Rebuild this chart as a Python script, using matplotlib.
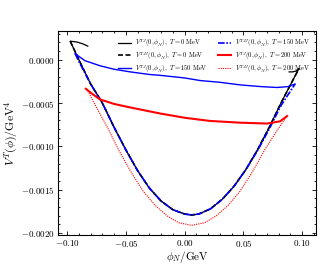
import numpy as np
import matplotlib
matplotlib.use('Agg')
from matplotlib import pyplot as plt
from matplotlib.ticker import MultipleLocator, FuncFormatter

plt.rcParams['mathtext.fontset'] = 'cm'
plt.rcParams['font.family'] = 'serif'

# V^TJJ, T = 0 MeV (black dashed)
x_jj0 = [-0.0974, -0.0900, -0.0800, -0.0700, -0.0600, -0.0500, -0.0400, -0.0300, -0.0200, -0.0100,
         0.0000, 0.0060, 0.0120, 0.0220, 0.0320, 0.0420, 0.0520, 0.0620, 0.0720, 0.0820, 0.0920, 0.0974]
y_jj0 = [0.000214, 0.00000, -0.00028, -0.00050, -0.00078, -0.00104, -0.00128, -0.00148, -0.00163, -0.00173,
         -0.00178, -0.00179, -0.00178, -0.00172, -0.00161, -0.00146, -0.00127, -0.00104, -0.00078, -0.00050, -0.00024, -0.00010]

# V^TJ, T = 0 MeV (black solid), with small tails at both ends
x_j0 = [-0.0824, -0.0870, -0.0920] + x_jj0 + [0.0950, 0.0920, 0.0890]
y_j0 = [0.000157, 0.000185, 0.000205] + y_jj0 + [-0.00013, -0.00014, -0.00014]

# T = 150 MeV
x_j150 = [-0.0932, -0.0850, -0.0719, -0.0600, -0.0464, -0.0300, -0.0209, 0.0000, 0.0132,
          0.0300, 0.0472, 0.0650, 0.0787, 0.0880, 0.0940]
y_j150 = [0.00007, -0.00001, -0.00007, -0.00011, -0.00014, -0.00017, -0.00018, -0.00021, -0.00024,
          -0.00026, -0.00029, -0.00031, -0.00032, -0.00031, -0.00028]
x_jj150 = [-0.0932, -0.0900, -0.0800, -0.0700, -0.0600, -0.0500, -0.0400, -0.0300, -0.0200, -0.0100,
           0.0000, 0.0060, 0.0120, 0.0220, 0.0320, 0.0420, 0.0520, 0.0620, 0.0720, 0.0820, 0.0940]
y_jj150 = [0.00007, -0.00002, -0.00028, -0.00050, -0.00078, -0.00104, -0.00128, -0.00148, -0.00163, -0.00173,
           -0.00178, -0.00179, -0.00178, -0.00172, -0.00161, -0.00146, -0.00127, -0.00105, -0.00080, -0.00053, -0.00028]

# T = 200 MeV
x_j200 = [-0.0841, -0.0780, -0.0719, -0.0600, -0.0464, -0.0209, 0.0004, 0.0217, 0.0472, 0.0702, 0.0813, 0.0872]
y_j200 = [-0.000335, -0.00040, -0.000458, -0.00051, -0.00055, -0.00062, -0.00067, -0.000706, -0.000726,
          -0.000736, -0.00071, -0.00065]
x_jj200 = [-0.0832, -0.0750, -0.0650, -0.0566, -0.0450, -0.0351, -0.0250, -0.0150, -0.0050, 0.0061,
           0.0170, 0.0270, 0.0370, 0.0470, 0.0570, 0.0686, 0.0742, 0.0810, 0.0872]
y_jj200 = [-0.00034, -0.00055, -0.00080, -0.00103, -0.00131, -0.00152, -0.00168, -0.00180, -0.00188, -0.00191,
           -0.00188, -0.00180, -0.00168, -0.00152, -0.00131, -0.00103, -0.00091, -0.00077, -0.00065]

fig = plt.figure(figsize=(3.32, 2.66), dpi=100)
ax = fig.add_axes([0.175, 0.117, 0.777, 0.766])

l1, = ax.plot(x_j0, y_j0, color='black', lw=0.9, label=r'$V^{TJ}(0,\phi_N),\ T = 0\ \mathrm{MeV}$')
l2, = ax.plot(x_jj0, y_jj0, color='black', lw=1.2, ls=(0, (3, 1.5)), label=r'$V^{TJJ}(0,\phi_N),\ T = 0\ \mathrm{MeV}$')
l3, = ax.plot(x_j150, y_j150, color='blue', lw=1.0, label=r'$V^{TJ}(0,\phi_N),\ T = 150\ \mathrm{MeV}$')
l4, = ax.plot(x_jj150, y_jj150, color='blue', lw=1.2, ls=(0, (4, 1, 1, 1)), label=r'$V^{TJJ}(0,\phi_N),\ T = 150\ \mathrm{MeV}$')
l5, = ax.plot(x_j200, y_j200, color='red', lw=1.5, label=r'$V^{TJ}(0,\phi_N),\ T = 200\ \mathrm{MeV}$')
l6, = ax.plot(x_jj200, y_jj200, color='red', lw=0.8, ls=(0, (1, 1)), label=r'$V^{TJJ}(0,\phi_N),\ T = 200\ \mathrm{MeV}$')

ax.set_xlim(-0.1077, 0.1119)
ax.set_ylim(-0.00202, 0.00033)

ax.xaxis.set_major_locator(MultipleLocator(0.05))
ax.xaxis.set_minor_locator(MultipleLocator(0.01))
ax.yaxis.set_major_locator(MultipleLocator(0.0005))
ax.yaxis.set_minor_locator(MultipleLocator(0.0001))
ax.xaxis.set_major_formatter(FuncFormatter(lambda v, p: r'$%.2f$' % v))
ax.yaxis.set_major_formatter(FuncFormatter(lambda v, p: r'$%.4f$' % v))
ax.tick_params(which='both', direction='in', top=True, right=True, labelsize=6.5, width=0.6, pad=2.5)
ax.tick_params(which='major', length=3)
ax.tick_params(which='minor', length=1.5)
for s in ax.spines.values():
    s.set_linewidth(0.8)

ax.set_xlabel(r'$\phi_N/\mathrm{GeV}$', fontsize=8, labelpad=0)
ax.set_ylabel(r'$V^T(\phi)/\mathrm{GeV}^4$', fontsize=8.5, labelpad=1)

ax.legend(handles=[l1, l2, l3, l4, l5, l6], ncol=2, loc='upper right', fontsize=4.7, frameon=False,
          handlelength=2.0, handletextpad=0.6, columnspacing=1.6, labelspacing=0.12, borderaxespad=0.5)

fig.savefig('out.png', dpi=100)
